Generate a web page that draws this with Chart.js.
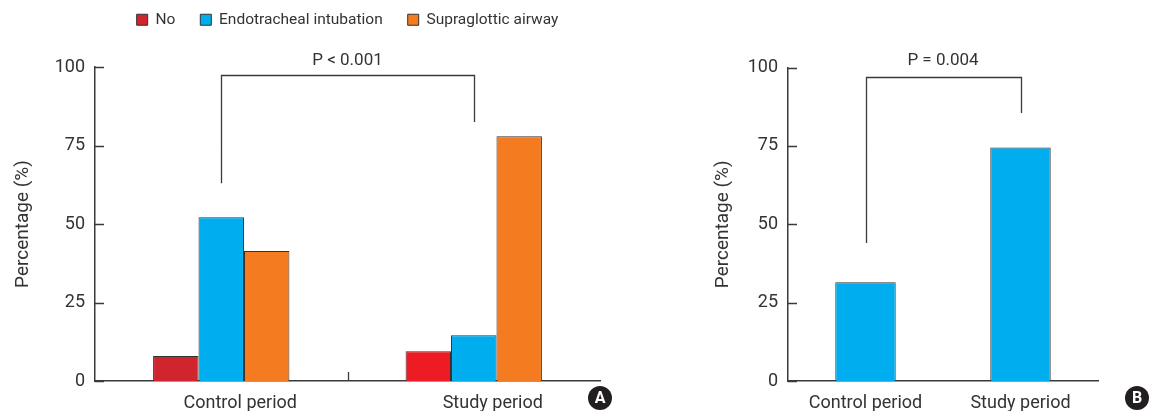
<!DOCTYPE html>
<html>
<head>
<meta charset="utf-8">
<script src="https://cdn.jsdelivr.net/npm/chart.js@4.4.1/dist/chart.umd.min.js"></script>
<style>
  body { margin: 0; background: #fff; width: 1150px; height: 411px; position: relative; overflow: hidden; }
  #chartA { position: absolute; left: 0; top: 0; }
  #chartB { position: absolute; left: 700px; top: 0; }
  .badge { position: absolute; width: 24px; height: 24px; border-radius: 50%; background: #231f20; color: #fff;
           font: bold 16px Roboto, sans-serif; text-align: center; line-height: 24px; }
</style>
</head>
<body>
<canvas id="chartA" width="620" height="411"></canvas>
<canvas id="chartB" width="450" height="411"></canvas>
<div class="badge" style="left:588px;top:386px">A</div>
<div class="badge" style="left:1125px;top:386px">B</div>
<script>
// data
const categories = ['Control period', 'Study period'];
const noAirway = [8, 9.5];
const intubation = [52.2, 14.6];
const supraglottic = [41.4, 78];
const airwayB = [31.5, 74.5];
const yTicks = [0, 25, 50, 75, 100];
const pTextA = 'P < 0.001';
const pTextB = 'P = 0.004';
// bracket: [top, left leg end, right leg end] in %
const bracketA = [97.5, 63, 82.5];
const bracketB = [97, 44, 85.5];

Chart.defaults.font.family = 'Roboto';
Chart.defaults.color = '#333';

// inner y ticks, middle x tick and significance bracket
const extras = {
  id: 'extras',
  afterDatasetsDraw(chart, args, opts) {
    const {ctx, chartArea, scales: {x, y}} = chart;
    ctx.save();
    ctx.strokeStyle = '#3a3a3a';
    ctx.lineWidth = 1.3;
    ctx.beginPath();
    y.ticks.forEach(t => {
      const py = Math.round(y.getPixelForValue(t.value)) + 0.5;
      ctx.moveTo(chartArea.left, py);
      ctx.lineTo(chartArea.left + 9, py);
    });
    if (opts.midTick) {
      const px = Math.round(x.getPixelForValue(0.5)) + 0.5;
      ctx.moveTo(px, chartArea.bottom);
      ctx.lineTo(px, chartArea.bottom - 9);
    }
    const bars = chart.getDatasetMeta(opts.dataset).data;
    const x1 = Math.round(bars[0].x) + 0.5, x2 = Math.round(bars[1].x) + 0.5;
    const yt = Math.round(y.getPixelForValue(opts.bracket[0])) + 0.5;
    ctx.moveTo(x1, y.getPixelForValue(opts.bracket[1]));
    ctx.lineTo(x1, yt);
    ctx.lineTo(x2, yt);
    ctx.lineTo(x2, y.getPixelForValue(opts.bracket[2]));
    ctx.stroke();
    ctx.restore();
  }
};

function yAxis(width) {
  return {
    min: 0, max: 100,
    afterBuildTicks: s => { s.ticks = yTicks.map(v => ({value: v})); },
    afterFit: s => { s.width = width; },
    grid: { display: false, drawTicks: false },
    border: { display: true, color: '#3a3a3a', width: 1.5 },
    ticks: { padding: 10, font: { size: 18 }, color: '#333' },
    title: { display: true, text: 'Percentage (%)', font: { size: 19 }, color: '#333', padding: { top: 12, bottom: 0 } }
  };
}

function xAxis(labelOffset) {
  return {
    afterFit: s => { s.height = 30; },
    grid: { display: false, drawTicks: false },
    border: { display: true, color: '#3a3a3a', width: 1.5 },
    ticks: { padding: 12, font: { size: 18 }, color: '#333', labelOffset: labelOffset }
  };
}

function pTitle(text, padTop) {
  return {
    display: true, text: text, fullSize: false, color: '#333',
    font: { size: 17, weight: 'normal', lineHeight: 0.8 }, padding: { top: padTop, bottom: 0 }
  };
}

const barBorder = { borderColor: '#333', borderWidth: 1 };

new Chart(document.getElementById('chartA'), {
  type: 'bar',
  data: {
    labels: categories,
    datasets: [
      { label: 'No', data: noAirway, backgroundColor: c => c.dataIndex === 1 ? '#ED1C24' : '#D0252C', ...barBorder },
      { label: 'Endotracheal intubation', data: intubation, backgroundColor: '#00AEEF', ...barBorder },
      { label: 'Supraglottic airway', data: supraglottic, backgroundColor: '#F47B20', ...barBorder }
    ]
  },
  options: {
    responsive: false,
    animation: false,
    events: [],
    layout: { padding: { top: -13, right: 20, bottom: 0, left: 0 } },
    datasets: { bar: { categoryPercentage: 0.54, barPercentage: 1 } },
    scales: { x: xAxis(19), y: yAxis(95) },
    plugins: {
      legend: {
        position: 'top', fullSize: false, weight: 3000,
        labels: { boxWidth: 11, boxHeight: 11, padding: 25, color: '#333', font: { size: 15.5 } }
      },
      title: pTitle(pTextA, 16),
      tooltip: { enabled: false },
      extras: { dataset: 1, bracket: bracketA, midTick: true }
    }
  },
  plugins: [extras]
});

new Chart(document.getElementById('chartB'), {
  type: 'bar',
  data: {
    labels: categories,
    datasets: [
      { label: 'Airway', data: airwayB, backgroundColor: '#00AEEF', ...barBorder }
    ]
  },
  options: {
    responsive: false,
    animation: false,
    events: [],
    layout: { padding: { top: 0, right: 52, bottom: 0, left: 0 } },
    datasets: { bar: { categoryPercentage: 0.39, barPercentage: 1 } },
    scales: { x: xAxis(0), y: yAxis(88) },
    plugins: {
      legend: { display: false },
      title: pTitle(pTextB, 54),
      tooltip: { enabled: false },
      extras: { dataset: 0, bracket: bracketB, midTick: false }
    }
  },
  plugins: [extras]
});
</script>
</body>
</html>
